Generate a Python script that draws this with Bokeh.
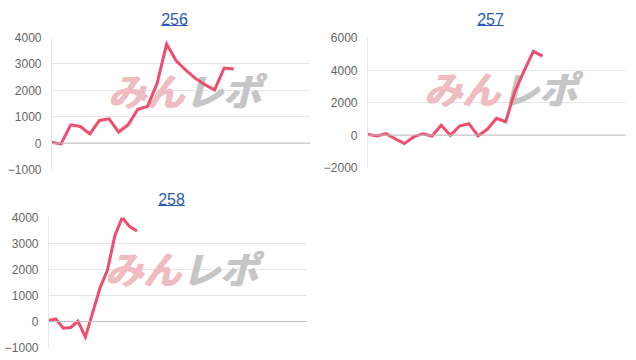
from bokeh.plotting import figure
from bokeh.layouts import column, row
from bokeh.models import Range1d, FixedTicker, Span, Label
from bokeh.core.properties import value
from bokeh.embed import file_html
from bokeh.resources import INLINE

# ---- data ----
titles = ["256", "257", "258"]
values_256 = [30, -30, 690, 630, 350, 860, 920, 420, 700, 1280, 1390, 2250,
              3750, 3120, 2760, 2450, 2210, 2015, 2845, 2810]
values_257 = [40, -60, 80, -230, -530, -120, 80, -60, 600, -20, 550, 700,
              -60, 350, 1030, 820, 2700, 3950, 5150, 4850]
values_258 = [40, 100, -260, -230, 10, -600, 350, 1300, 1980, 3300, 4000,
              3650, 3480]
slots_256 = 28
slots_257 = 29
slots_258 = 36
ticks_256 = [-1000, 0, 1000, 2000, 3000, 4000]
ticks_257 = [-2000, 0, 2000, 4000, 6000]
ticks_258 = [-1000, 0, 1000, 2000, 3000, 4000]

LINE = "#ee4d6e"
LINK = "#2b5cb5"
FONT = "Liberation Sans"
TITLE_H = 28


def make_title(title, w, bl, br):
    fw = w - bl - br
    t = figure(width=w, height=TITLE_H, output_backend="svg",
               toolbar_location=None, x_axis_type=None, y_axis_type=None,
               x_range=Range1d(0, fw), y_range=Range1d(0, TITLE_H),
               min_border_left=bl, min_border_right=br,
               min_border_top=0, min_border_bottom=0)
    t.outline_line_color = None
    t.grid.visible = False
    t.background_fill_color = "white"
    t.border_fill_color = "white"
    cx = 123
    t.text(x=[cx], y=[10], text=[title], text_font=value(FONT),
           text_font_size="16px", text_color=LINK, text_align="center",
           text_baseline="middle")
    half = 4.45 * len(title)
    t.segment(x0=[cx - half], y0=[3], x1=[cx + half], y1=[3],
              line_color=LINK, line_width=1.2)
    return t


def make_chart(values, slots, ticks, w, h, bl, br, bt, bb):
    p = figure(width=w, height=h, output_backend="svg", toolbar_location=None,
               x_axis_type=None,
               x_range=Range1d(0, slots - 1),
               y_range=Range1d(ticks[0], ticks[-1]),
               min_border_left=bl, min_border_right=br,
               min_border_top=bt, min_border_bottom=bb)
    p.outline_line_color = None
    p.background_fill_color = "white"
    p.border_fill_color = "white"
    p.xgrid.visible = False
    p.ygrid.grid_line_color = "#e6e6e6"
    p.ygrid.grid_line_width = 1
    p.yaxis.ticker = FixedTicker(ticks=ticks)
    p.yaxis.axis_line_color = "#e6e6e6"
    p.yaxis.major_tick_line_color = None
    p.yaxis.minor_tick_line_color = None
    p.yaxis.major_tick_out = 0
    p.yaxis.major_label_standoff = 10
    p.yaxis.major_label_text_font = FONT
    p.yaxis.major_label_text_font_size = "12px"
    p.yaxis.major_label_text_color = "#666666"

    p.add_layout(Span(location=0, dimension="width", line_color="#bfbfbf",
                      line_width=1))

    # watermark (drawn a few times with small shifts to look heavy)
    for dx in (0.0, 0.8, 1.6):
        p.add_layout(Label(x=56 + dx, y=80, x_units="screen", y_units="screen",
                           text="みん", text_font="Noto Sans CJK JP",
                           text_font_style="bold italic", text_font_size="38px",
                           text_color="#efbcc1",
                           text_baseline="middle", level="underlay"))
        p.add_layout(Label(x=133 + dx, y=80, x_units="screen", y_units="screen",
                           text="レポ", text_font="Noto Sans CJK JP",
                           text_font_style="bold italic", text_font_size="38px",
                           text_color="#c6c6c6",
                           text_baseline="middle", level="underlay"))

    xs = list(range(len(values)))
    p.line(xs, values, line_color=LINE, line_width=3, line_join="miter")
    return p


W = 318
CH = 180 - TITLE_H

t1 = make_title(titles[0], W, 51, 8)
p1 = make_chart(values_256, slots_256, ticks_256, W, CH, 51, 8, 37 - TITLE_H, 11)
t2 = make_title(titles[1], W, 49, 11)
p2 = make_chart(values_257, slots_257, ticks_257, W, CH, 49, 11, 37 - TITLE_H, 13)
t3 = make_title(titles[2], W, 48, 12)
p3 = make_chart(values_258, slots_258, ticks_258, W, CH, 48, 12, 37 - TITLE_H, 13)

layout = column(row(column(t1, p1), column(t2, p2)), row(column(t3, p3)))

open("out.html", "w").write(file_html(layout, INLINE))
